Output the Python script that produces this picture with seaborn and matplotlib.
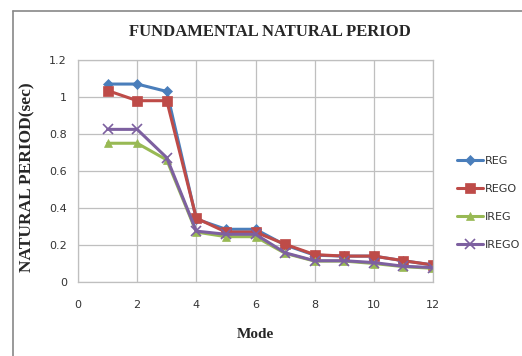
import matplotlib
matplotlib.use("Agg")
import matplotlib.pyplot as plt
import seaborn as sns
import pandas as pd
from matplotlib.lines import Line2D

modes = [1, 2, 3, 4, 5, 6, 7, 8, 9, 10, 11, 12]
reg = [1.07, 1.07, 1.03, 0.34, 0.285, 0.285, 0.20, 0.145, 0.14, 0.14, 0.115, 0.092]
rego = [1.035, 0.98, 0.98, 0.345, 0.27, 0.27, 0.204, 0.148, 0.14, 0.14, 0.115, 0.092]
ireg = [0.75, 0.75, 0.66, 0.27, 0.245, 0.245, 0.155, 0.113, 0.113, 0.10, 0.083, 0.074]
irego = [0.825, 0.825, 0.672, 0.275, 0.258, 0.258, 0.158, 0.115, 0.115, 0.105, 0.085, 0.078]
series_names = ["REG", "REGO", "IREG", "IREGO"]
colors = ["#4A7EBB", "#BE4B48", "#98B954", "#7D60A0"]
markers = ["D", "s", "^", "x"]
marker_sizes = [5, 7, 6, 7]

rows = []
for name, vals in zip(series_names, [reg, rego, ireg, irego]):
    for m, v in zip(modes, vals):
        rows.append({"Mode": m, "Period": v, "Series": name})
df = pd.DataFrame(rows)

sns.set_style("white")
fig = plt.figure(figsize=(5.22, 3.56), dpi=100)
fig.patch.set_facecolor("white")
fig.patch.set_edgecolor("white")
fig.patch.set_linewidth(0)
ax = fig.add_axes([78 / 522, 1 - 282 / 356, (433 - 78) / 522, (282 - 60) / 356])

for name, c, mk, ms in zip(series_names, colors, markers, marker_sizes):
    sub = df[df["Series"] == name]
    sns.lineplot(data=sub, x="Mode", y="Period", ax=ax, color=c, marker=mk,
                 markersize=ms, linewidth=2.2, label=name,
                 markeredgecolor=c, markeredgewidth=1.2 if mk == "x" else 0.5)

ax.set_xlim(0, 12)
ax.set_ylim(0, 1.2)
ax.set_xticks(range(0, 13, 2))
ax.set_yticks([0, 0.2, 0.4, 0.6, 0.8, 1.0, 1.2])
ax.set_yticklabels(["0", "0.2", "0.4", "0.6", "0.8", "1", "1.2"])
ax.grid(True, color="#BFBFBF", linewidth=0.9)
for s in ax.spines.values():
    s.set_color("#BFBFBF")
    s.set_linewidth(0.9)
ax.tick_params(axis="both", length=0, labelsize=8, colors="#333333", pad=8,
               labelfontfamily="DejaVu Sans")
ax.tick_params(axis="x", pad=13)

ax.set_xlabel("Mode", family="Liberation Serif", fontweight="bold", fontsize=11, labelpad=13)
ax.set_ylabel("NATURAL PERIOD(sec)", family="Liberation Serif", fontweight="bold",
              fontsize=12.5, labelpad=14)
ax.yaxis.set_label_coords(-(78 - 35) / 355, 0.473)
fig.text(270 / 522, 1 - 32 / 356, "FUNDAMENTAL NATURAL PERIOD", family="Liberation Serif",
         fontweight="bold", fontsize=12, ha="center", va="center")

leg = ax.legend(loc="center left", bbox_to_anchor=(1.04, 0.356), frameon=False,
                fontsize=8, handlelength=2.3, labelspacing=1.6, handletextpad=0.2,
                borderpad=0.4)
for t in leg.get_texts():
    t.set_color("#333333")

bx = 12.5 / 522
by = 1 - 10.5 / 356
fig.add_artist(Line2D([bx, bx], [-0.05, by], transform=fig.transFigure,
                      color="#888888", linewidth=1.2))
fig.add_artist(Line2D([bx, 1.05], [by, by], transform=fig.transFigure,
                      color="#888888", linewidth=1.2))

fig.savefig("out.png", dpi=100, facecolor="white", edgecolor="white")
